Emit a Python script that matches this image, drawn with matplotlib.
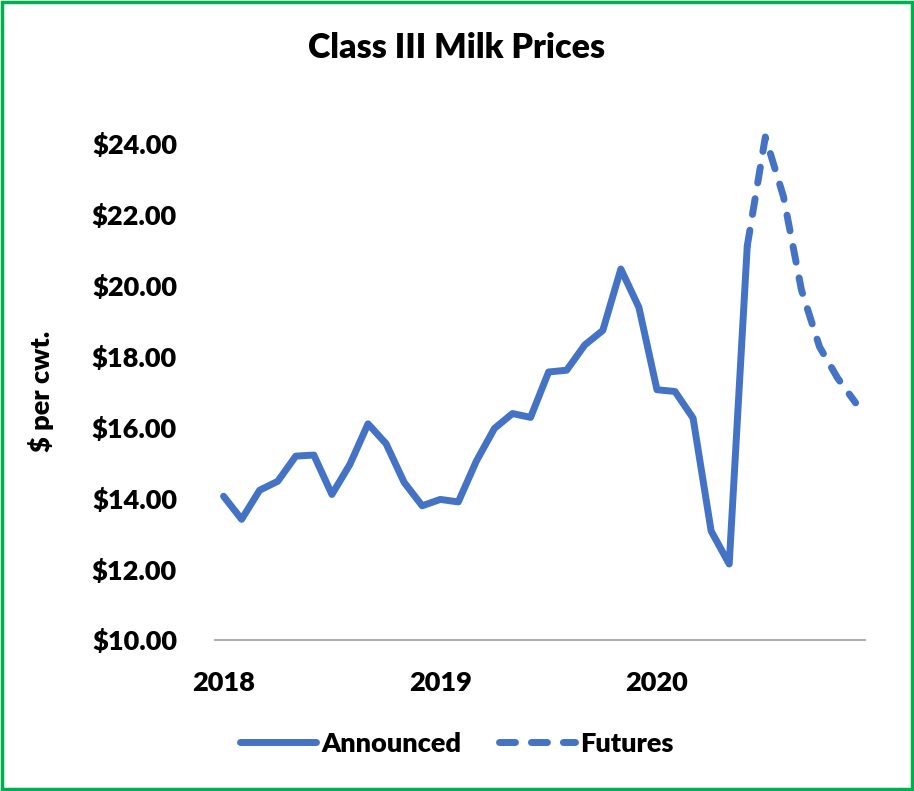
import matplotlib.pyplot as plt
from matplotlib.patches import Rectangle

plt.rcParams['font.family'] = ['Lato', 'DejaVu Sans']
plt.rcParams['font.weight'] = 'heavy'
plt.rcParams['axes.labelweight'] = 'heavy'

# monthly Class III prices, Jan 2018 - Jun 2020
announced = [14.05, 13.40, 14.22, 14.47, 15.18, 15.21, 14.10, 14.95, 16.09, 15.53, 14.44, 13.78,
             13.96, 13.89, 15.04, 15.96, 16.38, 16.27, 17.55, 17.60, 18.31, 18.72, 20.45, 19.37,
             17.05, 17.00, 16.25, 13.07, 12.14, 21.10]
# futures, Jun 2020 - Dec 2020
futures = [21.10, 24.17, 22.5, 19.86, 18.26, 17.38, 16.68]

year_labels = ['2018', '2019', '2020']
yticks = [10, 12, 14, 16, 18, 20, 22, 24]

x_ann = list(range(len(announced)))
x_fut = list(range(len(announced) - 1, len(announced) - 1 + len(futures)))

blue = '#4472C4'

fig = plt.figure(figsize=(9.14, 7.91), dpi=100)
ax = fig.add_axes([0.2347, 0.1909, 0.7113, 0.6283])

ax.plot(x_ann, announced, color=blue, lw=5, solid_capstyle='round',
        solid_joinstyle='round', label='Announced', clip_on=False)
ax.plot(x_fut, futures, color=blue, lw=5, dashes=(2.3, 2.3), dash_capstyle='round',
        dash_joinstyle='round', label='Futures', clip_on=False)

ax.set_xlim(-0.5, 35.5)
ax.set_ylim(10, 24)
ax.set_xticks([0, 12, 24])
ax.set_xticklabels(year_labels)
ax.set_yticks(yticks)
ax.set_yticklabels(['$%.2f' % v for v in yticks])
ax.tick_params(length=0, labelsize=19.5)
ax.tick_params(axis='y', pad=27)
ax.tick_params(axis='x', pad=22)

for s in ['top', 'right', 'left']:
    ax.spines[s].set_visible(False)
ax.spines['bottom'].set_color('#AFAFAF')
ax.spines['bottom'].set_linewidth(1.5)

ax.set_ylabel('$ per cwt.', fontsize=19.5, labelpad=27)
fig.text(0.5, 0.939, 'Class III Milk Prices', ha='center', va='center', fontsize=24.5)

fig.legend(loc='center', bbox_to_anchor=(0.5, 0.06), ncol=2, frameon=False,
           fontsize=19.5, handlelength=2.8, columnspacing=1.4, handletextpad=0.2)

fig.patches.append(Rectangle((0.002, 0.002), 0.996, 0.996, transform=fig.transFigure,
                             fill=False, edgecolor='#00B050', lw=2.5))

fig.savefig('out.png', dpi=100)
